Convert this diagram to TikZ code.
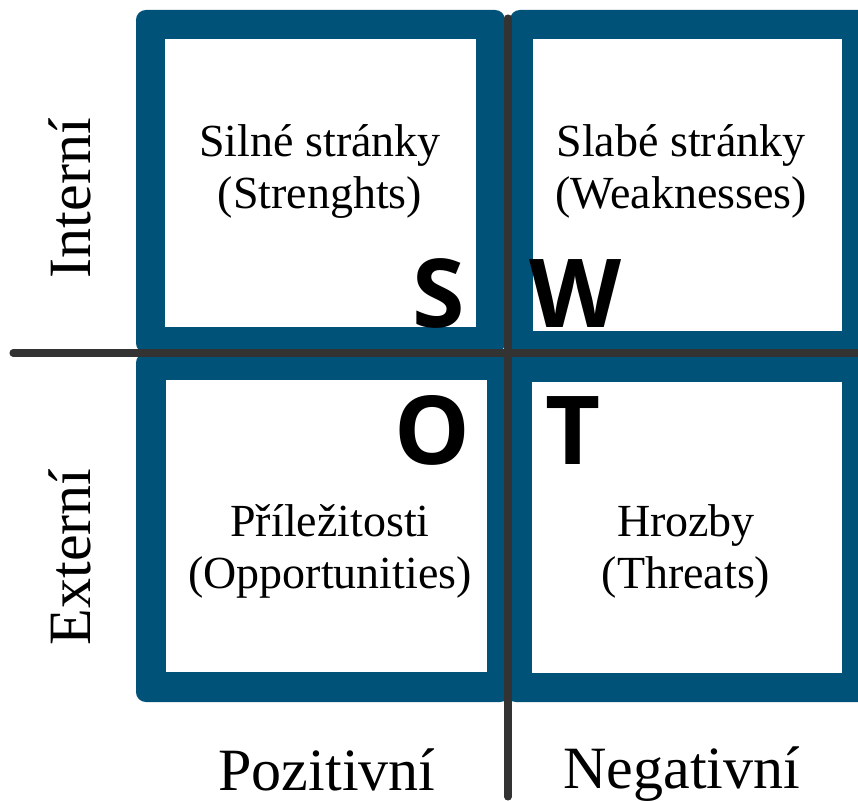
\documentclass[tikz,border=0pt]{standalone}
\usepackage{fontspec}
\setmainfont{Liberation Serif}
\newfontfamily\swotsans{Open Sans}
\usepackage{tikz}
\usepackage{xcolor}
\definecolor{swotBlue}{RGB}{0,82,120}
\definecolor{axisGrey}{RGB}{51,51,51}

\begin{document}
\begin{tikzpicture}[x=0.025cm,y=-0.025cm]
\path[use as bounding box] (0,0) rectangle (858,801);
\clip (0,0) rectangle (858,801);

\fill[swotBlue,rounded corners=7pt] (136,10) rectangle (505,353);
\fill[white] (165,39) rectangle (476,327);
\fill[swotBlue,rounded corners=7pt] (510,10) rectangle (875,353);
\fill[white] (533,39) rectangle (842,331);
\fill[swotBlue,rounded corners=7pt] (136,353) rectangle (510,702);
\fill[white] (166,380) rectangle (487,672);
\fill[swotBlue,rounded corners=7pt] (506,353) rectangle (875,702);
\fill[white] (532,382) rectangle (842,673);

\coordinate (axisW) at (13,353);
\coordinate (axisE) at (870,353);
\coordinate (axisN) at (508,18);
\coordinate (axisS) at (508,797);
\draw[axisGrey,line width=5pt,line cap=round] (axisW) -- (axisE);
\draw[axisGrey,line width=5pt,line cap=round] (axisN) -- (axisS);

\node[align=center,inner sep=0pt,font=\fontsize{32.7}{37}\selectfont] (strengths) at (320,171) {Silné stránky\\(Strenghts)};
\node[align=center,inner sep=0pt,font=\fontsize{32.7}{37}\selectfont] (weaknesses) at (681,171) {Slabé stránky\\(Weaknesses)};
\node[align=center,inner sep=0pt,font=\fontsize{32.7}{37}\selectfont] (opportunities) at (330,551) {Příležitosti\\(Opportunities)};
\node[align=center,inner sep=0pt,font=\fontsize{32.7}{37}\selectfont] (threats) at (686,551) {Hrozby\\(Threats)};

\node[anchor=base east,inner sep=0pt,font=\swotsans\bfseries\fontsize{67.7}{70}\selectfont] (letterS) at (465,328) {S};
\node[anchor=base west,inner sep=0pt,font=\swotsans\bfseries\fontsize{67.7}{70}\selectfont] (letterW) at (529,328) {W};
\node[anchor=base east,inner sep=0pt,font=\swotsans\bfseries\fontsize{67.7}{70}\selectfont] (letterO) at (471,464) {O};
\node[anchor=base west,inner sep=0pt,font=\swotsans\bfseries\fontsize{67.7}{70}\selectfont] (letterT) at (545,464) {T};

\node[rotate=90,anchor=base,inner sep=0pt,font=\fontsize{42.7}{46}\selectfont] (internal) at (90,198) {Interní};
\node[rotate=90,anchor=base,inner sep=0pt,font=\fontsize{42.7}{46}\selectfont] (external) at (90,557) {Externí};
\node[anchor=base,inner sep=0pt,font=\fontsize{42.7}{46}\selectfont] (positive) at (327,790) {Pozitivní};
\node[anchor=base,inner sep=0pt,font=\fontsize{42.7}{46}\selectfont] (negative) at (682,788) {Negativní};
\end{tikzpicture}
\end{document}
